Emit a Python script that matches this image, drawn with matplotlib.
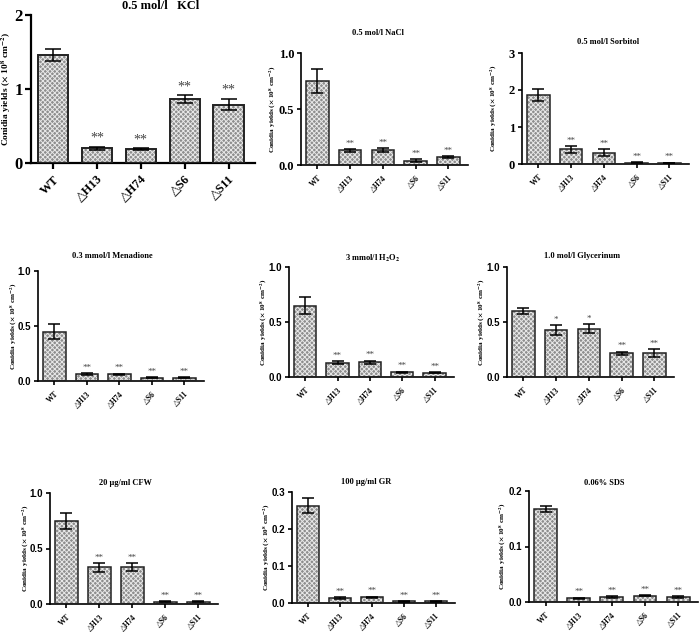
import matplotlib
matplotlib.use("Agg")
import matplotlib.pyplot as plt

plt.rcParams['font.family'] = ['Liberation Serif', 'DejaVu Serif']
plt.rcParams['font.weight'] = 'bold'
plt.rcParams['mathtext.fontset'] = 'stix'
plt.rcParams['hatch.linewidth'] = 0.7

strains = ['WT', '△H13', '△H74', '△S6', '△S11']

titles = ['0.5 mol/l   KCl', '0.5 mol/l NaCl', '0.5 mol/l Sorbitol',
          '0.3 mmol/l Menadione', r'3 mmol/l H$_2$O$_2$', '1.0 mol/l Glycerinum',
          '20 μg/ml CFW', '100 μg/ml GR', '0.06% SDS']

kcl = [1.46, 0.20, 0.19, 0.865, 0.79]
kcl_err = [0.08, 0.02, 0.01, 0.055, 0.08]
nacl = [0.75, 0.13, 0.135, 0.04, 0.07]
nacl_err = [0.105, 0.01, 0.015, 0.01, 0.01]
sorbitol = [1.87, 0.40, 0.31, 0.04, 0.03]
sorbitol_err = [0.16, 0.09, 0.09, 0.01, 0.01]
menadione = [0.45, 0.063, 0.06, 0.03, 0.03]
menadione_err = [0.065, 0.01, 0.008, 0.004, 0.004]
h2o2 = [0.65, 0.13, 0.135, 0.045, 0.04]
h2o2_err = [0.075, 0.015, 0.015, 0.005, 0.005]
glycerinum = [0.60, 0.43, 0.44, 0.215, 0.22]
glycerinum_err = [0.03, 0.045, 0.04, 0.015, 0.035]
cfw = [0.75, 0.33, 0.335, 0.02, 0.02]
cfw_err = [0.07, 0.04, 0.035, 0.003, 0.003]
gr = [0.263, 0.013, 0.015, 0.005, 0.005]
gr_err = [0.021, 0.002, 0.002, 0.001, 0.001]
sds = [0.168, 0.007, 0.009, 0.011, 0.009]
sds_err = [0.005, 0.001, 0.001, 0.001, 0.001]

values = [kcl, nacl, sorbitol, menadione, h2o2, glycerinum, cfw, gr, sds]
errors = [kcl_err, nacl_err, sorbitol_err, menadione_err, h2o2_err,
          glycerinum_err, cfw_err, gr_err, sds_err]
stars = [['', '**', '**', '**', '**']] * 5 + [['', '*', '*', '**', '**']] + \
        [['', '**', '**', '**', '**']] * 3
yticks = [[0, 1, 2], [0.0, 0.5, 1.0], [0, 1, 2, 3],
          [0.0, 0.5, 1.0], [0.0, 0.5, 1.0], [0.0, 0.5, 1.0],
          [0.0, 0.5, 1.0], [0.0, 0.1, 0.2, 0.3], [0.0, 0.1, 0.2]]
yfmt = ['{:.0f}', '{:.1f}', '{:.0f}'] + ['{:.1f}'] * 6

# axes boxes in pixels: left, top, right, bottom
W, H = 700, 632
boxes = [(31, 15, 255, 163), (301, 53, 468, 165), (522, 53, 689, 164),
         (38, 271, 204, 381), (289, 267, 454, 377), (507, 267, 674, 377),
         (50, 493, 218, 604), (292, 492, 455, 603), (529, 491, 698, 602)]
title_pos = [(161, 6), (378, 33), (608, 42), (112, 256), (372, 258),
             (582, 256), (125, 483), (366, 482), (604, 483)]
# right edge of the rotated y label, in pixels
ylab_x = [13, 278, 499, 19, 269, 487, 31, 272, 508]

ylab = r'Conidia yields ($\times$ 10$^8$ cm$^{-2}$)'

fig = plt.figure(figsize=(7, 6.32), dpi=100)

for k in range(9):
    l, t, r, b = boxes[k]
    ax = fig.add_axes([l / W, 1 - b / H, (r - l) / W, (b - t) / H])
    big = k == 0
    x = range(len(strains))
    ax.bar(x, values[k], width=0.69, color='#8e8e8e', edgecolor='#e8e8e8',
           hatch='xxxxxxx', linewidth=0, zorder=2)
    ax.bar(x, values[k], width=0.69, fill=False, edgecolor='#222222',
           linewidth=1.4 if big else 1.1, zorder=3)
    ax.errorbar(x, values[k], yerr=errors[k], fmt='none', ecolor='black',
                elinewidth=1.1, capsize=6 if big else 4.5, capthick=1.1, zorder=4)
    top = yticks[k][-1]
    for i, s in enumerate(stars[k]):
        if s:
            ax.text(i, values[k][i] + errors[k][i] + top * 0.012, s,
                    ha='center', va='bottom', color='#444444',
                    fontsize=10 if big else 6.5, fontweight='normal')
    ax.set_xlim(-0.5, 4.6)
    ax.set_ylim(0, top)
    ax.set_yticks(yticks[k])
    ax.set_yticklabels([yfmt[k].format(v) for v in yticks[k]])
    ax.set_xticks(list(x))
    ax.set_xticklabels(strains, rotation=45, ha='right', rotation_mode='anchor',
                       family=['Liberation Serif', 'DejaVu Serif'],
                       fontsize=9 if big else 5.5, fontweight='bold')
    for sp in ['top', 'right']:
        ax.spines[sp].set_visible(False)
    for sp in ['left', 'bottom']:
        ax.spines[sp].set_linewidth(1.6 if big else 1.2)
    if big:
        ax.tick_params(axis='y', labelsize=12, length=4, width=1.6, pad=2)
        ax.tick_params(axis='x', length=4, width=1.6)
    elif k < 3:
        ax.tick_params(axis='y', labelsize=9, length=3, width=1.2, pad=2)
        ax.tick_params(axis='x', length=3, width=1.2)
    else:
        ax.tick_params(axis='y', labelsize=7, length=3, width=1.2, pad=2)
        ax.tick_params(axis='x', length=3, width=1.2)
        for lab in ax.get_yticklabels():
            lab.set_family(['Liberation Sans', 'DejaVu Sans'])
            lab.set_fontweight('bold')
    ax.set_ylabel(ylab, fontsize=6.8 if big else 5.2, fontweight='bold')
    ax.yaxis.set_label_coords((ylab_x[k] - l) / (r - l), 0.5)
    fig.text(title_pos[k][0] / W, 1 - title_pos[k][1] / H, titles[k],
             ha='center', va='center', fontsize=9 if big else 6,
             fontweight='bold')

fig.savefig('out.png', dpi=100)
